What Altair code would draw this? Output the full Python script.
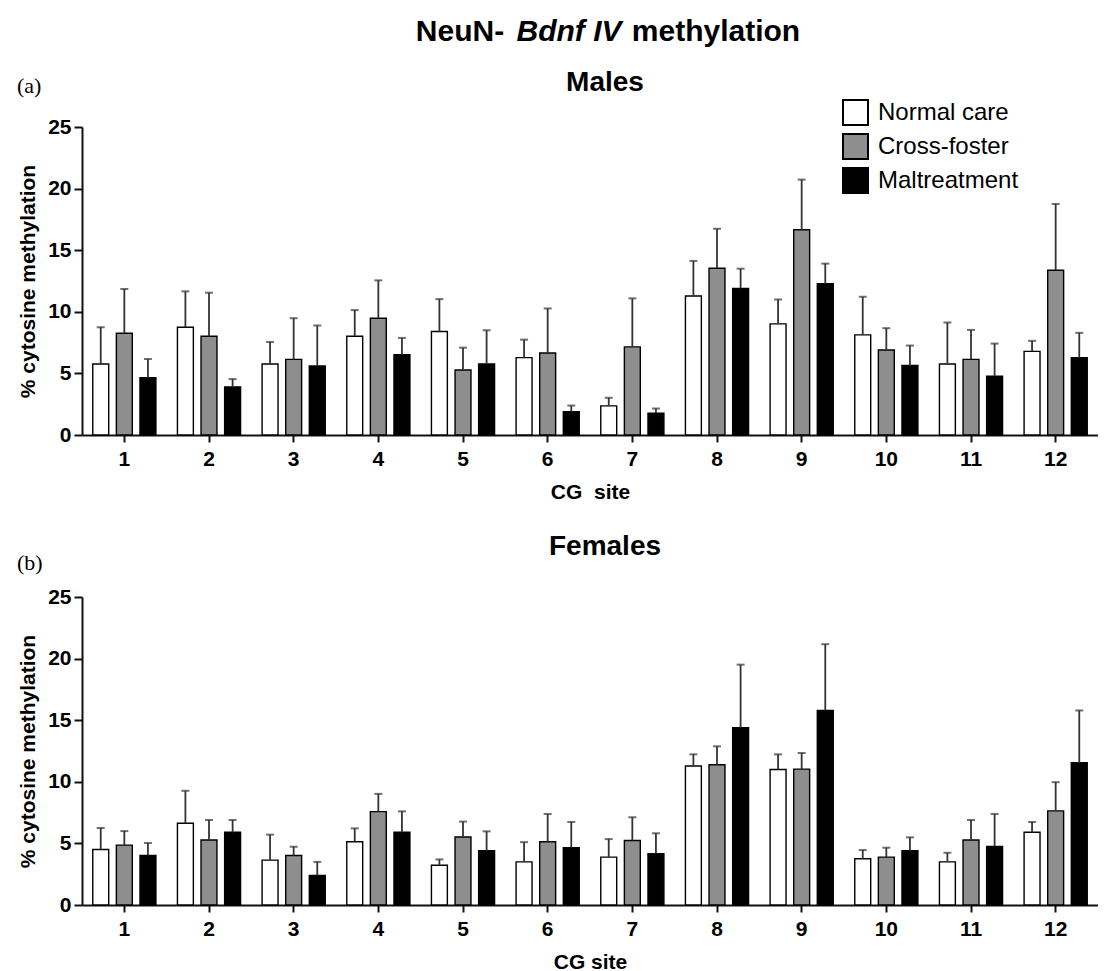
import altair as alt
import pandas as pd

sites = [str(i) for i in range(1, 13)]
groups = ["Normal care", "Cross-foster", "Maltreatment"]
fills = ["#ffffff", "#8e8e8e", "#000000"]

# Males: means and upper error (SEM) per CG site
m_normal = [5.76, 8.75, 5.76, 8.02, 8.40, 6.28, 2.36, 11.28, 9.02, 8.13, 5.76, 6.79]
m_normal_err = [2.99, 2.91, 1.79, 2.12, 2.63, 1.46, 0.66, 2.85, 1.98, 3.09, 3.37, 0.85]
m_cross = [8.26, 8.02, 6.14, 9.48, 5.27, 6.66, 7.15, 13.53, 16.66, 6.90, 6.14, 13.37]
m_cross_err = [3.59, 3.53, 3.34, 3.07, 1.82, 3.61, 3.94, 3.21, 4.07, 1.77, 2.39, 5.38]
m_malt = [4.65, 3.91, 5.60, 6.52, 5.76, 1.90, 1.77, 11.90, 12.28, 5.65, 4.78, 6.28]
m_malt_err = [1.52, 0.63, 3.29, 1.36, 2.74, 0.49, 0.38, 1.60, 1.63, 1.61, 2.64, 2.01]

# Females
f_normal = [4.51, 6.63, 3.64, 5.14, 3.23, 3.50, 3.89, 11.28, 11.00, 3.75, 3.50, 5.90]
f_normal_err = [1.74, 2.64, 2.07, 1.08, 0.47, 1.60, 1.46, 0.95, 1.23, 0.71, 0.74, 0.84]
f_cross = [4.86, 5.27, 4.02, 7.58, 5.52, 5.14, 5.24, 11.39, 11.03, 3.89, 5.27, 7.64]
f_cross_err = [1.14, 1.63, 0.71, 1.44, 1.25, 2.25, 1.88, 1.49, 1.31, 0.76, 1.63, 2.33]
f_malt = [4.02, 5.90, 2.39, 5.90, 4.40, 4.65, 4.16, 14.40, 15.79, 4.40, 4.76, 11.55]
f_malt_err = [1.01, 1.00, 1.11, 1.70, 1.58, 2.09, 1.66, 5.11, 5.38, 1.09, 2.63, 4.24]

y_ticks = [0, 5, 10, 15, 20, 25]


def long_table(means_list, errs_list):
    rows = []
    for g, means, errs in zip(groups, means_list, errs_list):
        for s, m, e in zip(sites, means, errs):
            rows.append({"site": s, "group": g, "mean": m, "upper": m + e})
    return pd.DataFrame(rows)


males = long_table([m_normal, m_cross, m_malt], [m_normal_err, m_cross_err, m_malt_err])
females = long_table([f_normal, f_cross, f_malt], [f_normal_err, f_cross_err, f_malt_err])

FONT = "Liberation Sans"
W, H = 1016, 308


def txt(text, x, y, size, weight="bold", style="normal", align="center", font=FONT, baseline="alphabetic"):
    return alt.Chart(alt.Data(values=[{}])).mark_text(
        text=text, font=font, fontSize=size, fontWeight=weight, fontStyle=style,
        align=align, baseline=baseline, color="black"
    ).encode(x=alt.value(x), y=alt.value(y))


def panel(df, legend, xtitle, extra):
    x = alt.X("site:N", sort=sites,
              scale=alt.Scale(paddingInner=0, paddingOuter=0.0),
              axis=alt.Axis(title=xtitle, labelAngle=0))
    xo = alt.XOffset("group:N", sort=groups,
                     scale=alt.Scale(paddingInner=0.325, paddingOuter=0.456))
    y = alt.Y("mean:Q", scale=alt.Scale(domain=[0, 25], nice=False),
              axis=alt.Axis(values=y_ticks, title="% cytosine methylation"))
    color = alt.Color("group:N", sort=groups,
                      scale=alt.Scale(domain=groups, range=fills),
                      legend=legend)
    bars = alt.Chart(df).mark_bar(stroke="black", strokeWidth=1.4).encode(
        x=x, xOffset=xo, y=y, color=color)
    err = alt.Chart(df).mark_rule(color="#333333", strokeWidth=1.8).encode(
        x=x, xOffset=xo, y="mean:Q", y2="upper:Q")
    caps = alt.Chart(df).mark_tick(color="#333333", thickness=2, size=8, orient="horizontal").encode(
        x=x, xOffset=xo, y="upper:Q")
    return alt.layer(bars, err, caps, *extra).properties(width=W, height=H)


legend = alt.Legend(
    orient="none", legendX=760, legendY=-28, title=None,
    symbolType="square", symbolSize=625, symbolStrokeColor="black", symbolStrokeWidth=2,
    labelFont=FONT, labelFontSize=24, labelColor="black", labelFontWeight="normal",
    rowPadding=1, labelOffset=9,
)

top_extra = [
    txt("NeuN-", 378, -86, 30),
    txt("Bdnf IV", 487, -86, 30, style="italic"),
    txt("methylation", 634, -86, 30),
    txt("Males", 523, -36, 28),
    txt("(a)", -65, -41, 22, weight="normal", align="left", font="Liberation Serif", baseline="middle"),
]
bottom_extra = [
    txt("Females", 523, -42, 28),
    txt("(b)", -65, -34, 22, weight="normal", align="left", font="Liberation Serif", baseline="middle"),
]

p1 = panel(males, legend, "CG\u00a0\u00a0site", top_extra)
p2 = panel(females, None, "CG site", bottom_extra)

chart = alt.vconcat(p1, p2, spacing=31).resolve_legend(color="independent").properties(
    padding={"left": 9, "top": 9, "right": 0, "bottom": 0}
).configure(
    background="white",
).configure_view(stroke=None).configure_axis(
    grid=False,
    domainColor="#111111", domainWidth=2,
    tickColor="#111111", tickWidth=2,
    labelFont=FONT, labelFontSize=21, labelFontWeight="bold", labelColor="black",
    titleFont=FONT, titleFontSize=21, titleFontWeight="bold", titleColor="black",
).configure_axisX(
    tickSize=7, labelPadding=6, titlePadding=12,
).configure_axisY(
    tickSize=8, labelPadding=3, titlePadding=9,
)

chart.save("out.html", embed_options={"renderer": "svg", "actions": False})
